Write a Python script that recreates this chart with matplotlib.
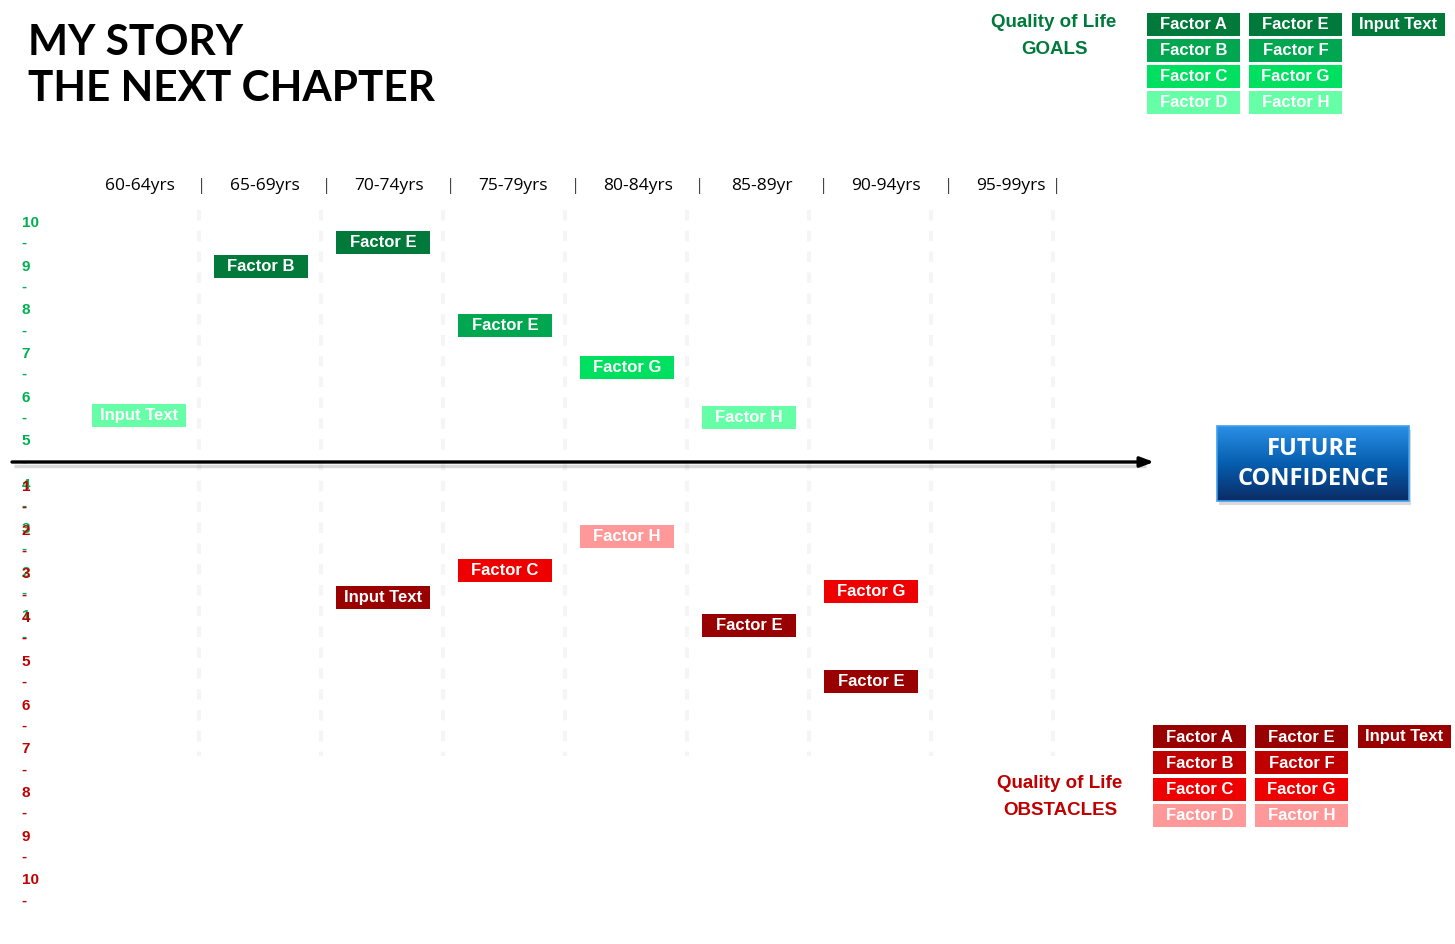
import numpy as np
import matplotlib.pyplot as plt
from matplotlib.patches import Rectangle

W, H = 1455, 944

# age columns
ages = ["60-64yrs", "65-69yrs", "70-74yrs", "75-79yrs",
        "80-84yrs", "85-89yr", "90-94yrs", "95-99yrs"]

# goals (above the line): column index, score 1-10, shade 0 (dark) .. 3 (light)
goal_labels = ["Input Text", "Factor B", "Factor E", "Factor E", "Factor G", "Factor H"]
goal_cols = [0, 1, 2, 3, 4, 5]
goal_scores = [5.6, 9.0, 9.55, 7.65, 6.7, 5.55]
goal_shades = [3, 0, 0, 1, 2, 3]

# obstacles (below the line)
obst_labels = ["Input Text", "Factor C", "Factor H", "Factor E", "Factor G", "Factor E"]
obst_cols = [2, 3, 4, 5, 6, 6]
obst_scores = [3.52, 2.92, 2.14, 4.16, 3.40, 5.46]
obst_shades = [0, 2, 3, 0, 2, 0]

legend_cols = [["Factor A", "Factor B", "Factor C", "Factor D"],
               ["Factor E", "Factor F", "Factor G", "Factor H"],
               ["Input Text"]]

GREENS = ["#00793A", "#00A650", "#00E060", "#66FFA8"]
REDS = ["#990000", "#C00000", "#EE0000", "#FF9999"]

BOX_FONT = ["Liberation Sans", "DejaVu Sans"]

fig = plt.figure(figsize=(W / 100, H / 100), dpi=100)
fig.patch.set_facecolor("white")

# score axes: column i centre at x = 139 + 122 i
xlim = (-139 / 122, (W - 139) / 122)
ag = fig.add_axes([0, 0, 1, 1], facecolor="none")
ag.set_xlim(*xlim)
ag.set_ylim(10 - (H - 223) / 43.7, 10 + 223 / 43.7)
ag.axis("off")
ao = fig.add_axes([0, 0, 1, 1], facecolor="none")
ao.set_xlim(*xlim)
ao.set_ylim(1 + (H - 487) / 43.7, 1 - 487 / 43.7)
ao.axis("off")

# pixel layout axes (on top)
lay = fig.add_axes([0, 0, 1, 1], facecolor="none")
lay.set_xlim(0, W)
lay.set_ylim(H, 0)
lay.axis("off")

# faint dashed column dividers
for i in range(len(ages)):
    ag.plot([i + 0.49, i + 0.49], [10.3, -2.2], color="#F5F5F5", lw=3,
            ls=(0, (2.5, 2.5)), zorder=0)

# title
TITLE_FONT = ["Lato", "Liberation Sans"]
lay.text(28, 43, "MY STORY", fontsize=30.5, fontweight="bold", va="center",
         family=TITLE_FONT, color="black")
lay.text(28, 89, "THE NEXT CHAPTER", fontsize=30.5, fontweight="bold", va="center",
         family=TITLE_FONT, color="black")

# header row
for i, a in enumerate(ages):
    hx = 140 + 124.4 * i
    lay.text(hx, 186, a, fontsize=12.5, ha="center", va="center",
             family=["Open Sans", "DejaVu Sans"], color="black")
    sx = hx + 62 if i < len(ages) - 1 else 1057
    lay.text(sx, 186, "|", fontsize=12, ha="center", va="center",
             family=["Open Sans", "DejaVu Sans"], color="#444444")

# side scale labels
for s in range(10, 0, -1):
    ag.text(0.015, s, str(s), transform=ag.get_yaxis_transform(), fontsize=11,
            fontweight="bold", color="#00B050", va="center", ha="left", family=BOX_FONT)
    ag.text(0.015, s - 0.46, "-", transform=ag.get_yaxis_transform(), fontsize=11,
            fontweight="bold", color="#00B050", va="center", ha="left", family=BOX_FONT)
for s in range(1, 11):
    ao.text(0.015, s, str(s), transform=ao.get_yaxis_transform(), fontsize=11,
            fontweight="bold", color="#C00000", va="center", ha="left", family=BOX_FONT)
    ao.text(0.015, s + 0.46, "-", transform=ao.get_yaxis_transform(), fontsize=11,
            fontweight="bold", color="#C00000", va="center", ha="left", family=BOX_FONT)


def score_box(ax, col, score, label, color, hy):
    bw = 94 / 122
    ax.add_patch(Rectangle((col - bw / 2, score - hy / 2), bw, hy,
                           facecolor=color, edgecolor="none", zorder=3))
    ax.text(col, score, label, ha="center", va="center", color="white",
            fontsize=12, fontweight="bold", family=BOX_FONT, zorder=4)


for c, s, lab, sh in zip(goal_cols, goal_scores, goal_labels, goal_shades):
    score_box(ag, c, s, lab, GREENS[sh], 23 / 43.7)
for c, s, lab, sh in zip(obst_cols, obst_scores, obst_labels, obst_shades):
    score_box(ao, c, s, lab, REDS[sh], 23 / 43.7)

# main arrow with soft shadow
lay.plot([14, 1146], [465.5, 465.5], color="#000000", lw=2.5, alpha=0.15,
         solid_capstyle="butt", zorder=1)
lay.annotate("", xy=(1154, 462), xytext=(12, 462),
             arrowprops=dict(arrowstyle="-|>,head_length=0.8,head_width=0.3",
                             color="black", lw=2.4, shrinkA=0, shrinkB=0), zorder=2)

# future confidence button
bx0, bx1, by0, by1 = 1217, 1409, 426, 501
lay.add_patch(Rectangle((bx0 + 2, by0 + 4), bx1 - bx0, by1 - by0,
                        facecolor="#000000", alpha=0.15, edgecolor="none", zorder=2))
grad = np.linspace(0, 1, 64)[:, None, None]
top = np.array([0x2A, 0x8F, 0xE4]) / 255
mid = np.array([0x06, 0x5E, 0xB0]) / 255
bot = np.array([0x0A, 0x2C, 0x66]) / 255
img = np.where(grad < 0.5, top + (mid - top) * (grad / 0.5),
               mid + (bot - mid) * ((grad - 0.5) / 0.5))
img = np.repeat(img, 4, axis=1)
lay.imshow(img, extent=(bx0, bx1, by1, by0), aspect="auto", zorder=3,
           interpolation="bilinear")
lay.add_patch(Rectangle((bx0, by0), bx1 - bx0, by1 - by0, facecolor="none",
                        edgecolor="#3FA0F0", lw=1.2, zorder=4))
lay.set_xlim(0, W)
lay.set_ylim(H, 0)
lay.text((bx0 + bx1) / 2, 449, "FUTURE", ha="center", va="center", color="white",
         fontsize=17, fontweight="bold", family=["Open Sans", "DejaVu Sans"], zorder=5)
lay.text((bx0 + bx1) / 2, 479, "CONFIDENCE", ha="center", va="center", color="white",
         fontsize=17, fontweight="bold", family=["Open Sans", "DejaVu Sans"], zorder=5)


def legend_block(x0s, y0s, colors, title_xy, title, tcolor):
    for ci, col in enumerate(legend_cols):
        for ri, lab in enumerate(col):
            lay.add_patch(Rectangle((x0s[ci], y0s[ri]), 93, 23, facecolor=colors[ri],
                                    edgecolor="none", zorder=3))
            lay.text(x0s[ci] + 46.5, y0s[ri] + 12, lab, ha="center", va="center",
                     color="white", fontsize=12, fontweight="bold", family=BOX_FONT,
                     zorder=4)
    lay.text(title_xy[0], title_xy[1], title, ha="center", va="center", color=tcolor,
             fontsize=13.5, fontweight="bold", family=BOX_FONT, linespacing=1.75)


legend_block([1147, 1249, 1352], [12.5, 38.5, 64.5, 90.5], GREENS, (1054, 36),
             "Quality of Life\nGOALS", "#00793A")
legend_block([1153, 1255, 1358], [725, 751, 777.5, 803.5], REDS, (1060, 797),
             "Quality of Life\nOBSTACLES", "#C00000")

fig.savefig("out.png", dpi=100, facecolor="white")
